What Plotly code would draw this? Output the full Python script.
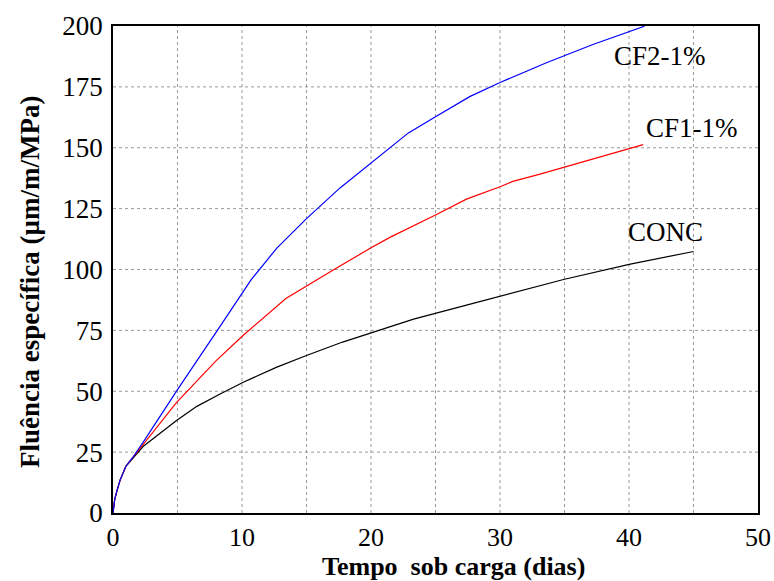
import plotly.graph_objects as go

# CF2-1%
cf2_x = [0, 0.13, 0.3, 0.55, 1.0, 1.5, 2.33, 5.0, 8.0, 10.7, 12.7, 15.0, 17.6, 20.0, 21.5, 22.9, 25.0, 27.65, 30.0, 33.6, 37.2, 41.2]
cf2_y = [0, 5.5, 9, 13.5, 19.2, 22.6, 29.0, 50.7, 74.3, 95.7, 108.8, 120.9, 133.5, 143.8, 150.3, 156.1, 162.7, 171.0, 176.8, 184.9, 192.4, 199.9]
# CF1-1%
cf1_x = [0, 0.13, 0.3, 0.55, 1.0, 1.5, 2.33, 4.9, 8.0, 10.1, 13.4, 15.0, 17.3, 19.9, 21.5, 25.0, 27.4, 30.0, 31.0, 33.1, 34.65, 37.2, 41.1]
cf1_y = [0, 5.5, 9, 13.5, 19.2, 22.5, 28.0, 45.2, 62.6, 73.0, 88.1, 93.3, 100.5, 108.6, 113.3, 122.4, 128.9, 134.0, 136.2, 139.2, 141.5, 145.5, 151.3]
# CONC
conc_x = [0, 0.13, 0.3, 0.55, 1.0, 1.5, 2.33, 4.9, 6.5, 8.3, 10.1, 12.7, 15.0, 17.8, 19.9, 23.3, 27.4, 30.3, 35.0, 40.1, 45.0]
conc_y = [0, 5.5, 9, 13.5, 19.2, 22.4, 27.3, 37.9, 43.8, 48.9, 53.7, 59.9, 64.7, 70.2, 73.9, 79.6, 85.4, 89.5, 96.0, 102.2, 107.4]

series_names = ["CONC", "CF1-1%", "CF2-1%"]
series_colors = ["black", "red", "blue"]
label_pos = [(42.8, 115.4), (44.9, 158.3), (42.4, 187.6)]

x_ticks = [0, 10, 20, 30, 40, 50]
y_ticks = [0, 25, 50, 75, 100, 125, 150, 175, 200]

FONT = "Liberation Serif"

W, H = 774, 581
l, r, t, b = 113, 16, 26, 68
pw, ph = W - l - r, H - t - b

fig = go.Figure()
for (xs, ys), name, col in zip([(conc_x, conc_y), (cf1_x, cf1_y), (cf2_x, cf2_y)], series_names, series_colors):
    fig.add_trace(go.Scatter(x=xs, y=ys, mode="lines", name=name,
                             line=dict(color=col, width=1.2), showlegend=False))

for name, (lx, ly) in zip(series_names, label_pos):
    fig.add_annotation(x=lx, y=ly, text=name, showarrow=False,
                       xanchor="center", yanchor="middle",
                       font=dict(family=FONT, size=27, color="black"))

# grid: vertical every 5, horizontal every 25
for gx in range(5, 50, 5):
    fig.add_shape(type="line", x0=gx, x1=gx, y0=0, y1=200, xref="x", yref="y",
                  line=dict(color="#999999", width=1, dash="3px,3px"), layer="below")
for gy in y_ticks[1:-1]:
    fig.add_shape(type="line", x0=0, x1=50, y0=gy, y1=gy, xref="x", yref="y",
                  line=dict(color="#999999", width=1, dash="3px,3px"), layer="below")

# axis titles (pixel centres converted to paper coordinates)
fig.add_annotation(x=(453 - l) / pw, y=(H - b - 566) / ph, xref="paper", yref="paper",
                   text="<b>Tempo\u00a0 sob carga (dias)</b>", showarrow=False,
                   xanchor="center", yanchor="middle",
                   font=dict(family=FONT, size=26, color="black"))
fig.add_annotation(x=(30 - l) / pw, y=(H - b - 282) / ph, xref="paper", yref="paper",
                   text="<b>Fluência específica (µm/m/MPa)</b>", showarrow=False,
                   xanchor="center", yanchor="middle", textangle=-90,
                   font=dict(family=FONT, size=27, color="black"))

fig.update_layout(
    width=W, height=H,
    margin=dict(l=l, r=r, t=t, b=b),
    paper_bgcolor="white", plot_bgcolor="white",
    font=dict(family=FONT, color="black"),
)

fig.update_xaxes(range=[0, 50], tickvals=x_ticks, showgrid=False, zeroline=False,
                 showline=True, linecolor="black", linewidth=1.5, mirror=True,
                 ticks="", tickfont=dict(family=FONT, size=26), ticklabelstandoff=0,
                 automargin=False)
fig.update_yaxes(range=[0, 200], tickvals=y_ticks, showgrid=False, zeroline=False,
                 showline=True, linecolor="black", linewidth=1.5, mirror=True,
                 ticks="", tickfont=dict(family=FONT, size=27), ticklabelstandoff=3,
                 automargin=False)

fig.write_html("out.html")
